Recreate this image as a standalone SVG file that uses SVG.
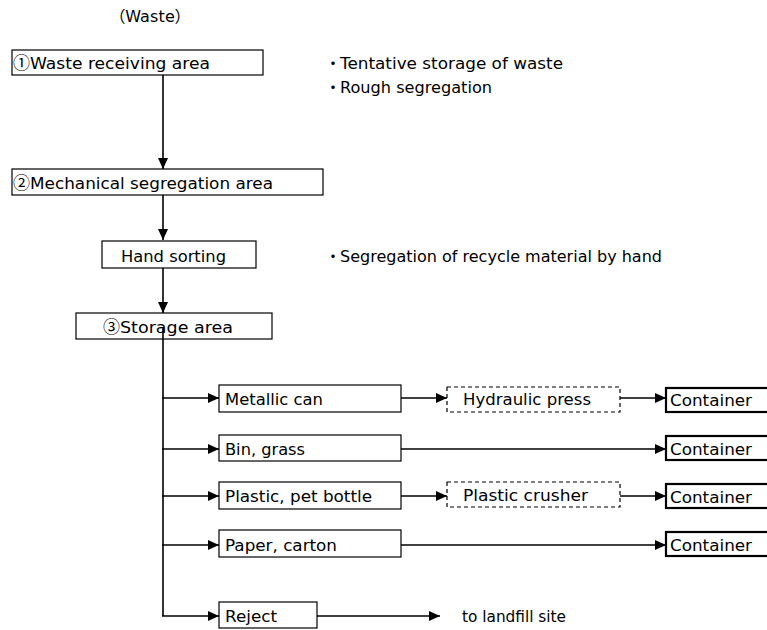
<svg xmlns="http://www.w3.org/2000/svg" width="767" height="630" viewBox="0 0 767 630">
  <style>
    text { font-family: "DejaVu Sans", "Noto Sans CJK JP", sans-serif; font-size: 16px; fill: #000; font-feature-settings: "palt"; }
    .cjk { font-family: "Noto Sans CJK JP", sans-serif; font-size: 17px; font-feature-settings: normal; }
    .dot { font-family: "Noto Sans CJK JP", sans-serif; font-size: 16px; font-feature-settings: normal; }
    .box { fill: #fff; stroke: #000; stroke-width: 1.2; }
    .dash { fill: #fff; stroke: #000; stroke-width: 1.2; stroke-dasharray: 4 3; }
    .cont { fill: #fff; stroke: #000; stroke-width: 2.2; }
    .link { fill: none; stroke: #000; stroke-width: 1.6; }
  </style>
  <defs>
    <marker id="arrow" markerUnits="userSpaceOnUse" markerWidth="12" markerHeight="10" refX="11" refY="5" orient="auto">
      <path d="M0,0 L11,5 L0,10 Z" fill="#000"/>
    </marker>
  </defs>

  <rect width="767" height="630" fill="#fff"/>

  <text x="117" y="22" textLength="66" lengthAdjust="spacing">（Waste）</text>

  <!-- connectors -->
  <g id="connectors">
    <line class="link" x1="163" y1="75" x2="163" y2="169" marker-end="url(#arrow)"/>
    <line class="link" x1="163" y1="195" x2="163" y2="240" marker-end="url(#arrow)"/>
    <line class="link" x1="163" y1="268" x2="163" y2="313" marker-end="url(#arrow)"/>
    <line class="link" x1="163" y1="327" x2="163" y2="616"/>
    <line class="link" x1="162" y1="398" x2="219" y2="398" marker-end="url(#arrow)"/>
    <line class="link" x1="162" y1="449" x2="219" y2="449" marker-end="url(#arrow)"/>
    <line class="link" x1="162" y1="496" x2="219" y2="496" marker-end="url(#arrow)"/>
    <line class="link" x1="162" y1="545" x2="219" y2="545" marker-end="url(#arrow)"/>
    <line class="link" x1="162" y1="616" x2="219" y2="616" marker-end="url(#arrow)"/>
    <line class="link" x1="401" y1="398" x2="447" y2="398" marker-end="url(#arrow)"/>
    <line class="link" x1="620" y1="398" x2="666" y2="398" marker-end="url(#arrow)"/>
    <line class="link" x1="399" y1="449" x2="666" y2="449" marker-end="url(#arrow)"/>
    <line class="link" x1="401" y1="496" x2="447" y2="496" marker-end="url(#arrow)"/>
    <line class="link" x1="620" y1="496" x2="666" y2="496" marker-end="url(#arrow)"/>
    <line class="link" x1="401" y1="545" x2="666" y2="545" marker-end="url(#arrow)"/>
    <line class="link" x1="317" y1="616" x2="440" y2="616" marker-end="url(#arrow)"/>
  </g>

  <g id="receiving">
    <rect class="box" x="12" y="50" width="251" height="25"/>
    <text x="13" y="69"><tspan class="cjk">①</tspan><tspan textLength="180" lengthAdjust="spacingAndGlyphs">Waste receiving area</tspan></text>
  </g>
  <g id="receiving-notes">
    <text x="325" y="69"><tspan class="dot">・</tspan><tspan x="340" textLength="223" lengthAdjust="spacingAndGlyphs">Tentative storage of waste</tspan></text>
    <text x="325" y="93"><tspan class="dot">・</tspan><tspan x="340" textLength="152" lengthAdjust="spacingAndGlyphs">Rough segregation</tspan></text>
  </g>

  <g id="mechanical">
    <rect class="box" x="12" y="169" width="311" height="26"/>
    <text x="13" y="189"><tspan class="cjk">②</tspan><tspan textLength="243" lengthAdjust="spacingAndGlyphs">Mechanical segregation area</tspan></text>
  </g>

  <g id="hand-sorting">
    <rect class="box" x="102" y="241" width="154" height="27"/>
    <text x="121" y="262" textLength="105" lengthAdjust="spacingAndGlyphs">Hand sorting</text>
  </g>
  <g id="hand-note">
    <text x="325" y="262"><tspan class="dot">・</tspan><tspan x="340" textLength="322" lengthAdjust="spacingAndGlyphs">Segregation of recycle material by hand</tspan></text>
  </g>

  <g id="storage">
    <rect class="box" x="76" y="313" width="196" height="26"/>
    <text x="103" y="333"><tspan class="cjk">③</tspan><tspan textLength="113" lengthAdjust="spacingAndGlyphs">Storage area</tspan></text>
  </g>
  <line class="link" x1="163" y1="327" x2="163" y2="339"/>

  <g id="metallic-can">
    <rect class="box" x="219" y="385" width="182" height="27"/>
    <text x="225" y="405" textLength="98" lengthAdjust="spacingAndGlyphs">Metallic can</text>
  </g>
  <g id="bin-grass">
    <rect class="box" x="219" y="435" width="182" height="26"/>
    <text x="225" y="455" textLength="80" lengthAdjust="spacingAndGlyphs">Bin, grass</text>
  </g>
  <g id="plastic-bottle">
    <rect class="box" x="219" y="482" width="182" height="27"/>
    <text x="225" y="502" textLength="147" lengthAdjust="spacingAndGlyphs">Plastic, pet bottle</text>
  </g>
  <g id="paper-carton">
    <rect class="box" x="219" y="530" width="182" height="27"/>
    <text x="225" y="551" textLength="112" lengthAdjust="spacingAndGlyphs">Paper, carton</text>
  </g>
  <g id="reject">
    <rect class="box" x="219" y="602" width="98" height="26"/>
    <text x="225" y="622" textLength="52" lengthAdjust="spacingAndGlyphs">Reject</text>
  </g>
  <g id="landfill">
    <text x="462" y="622" textLength="104" lengthAdjust="spacingAndGlyphs">to landfill site</text>
  </g>

  <g id="hydraulic-press">
    <rect class="dash" x="447" y="387" width="173" height="25"/>
    <text x="463" y="405" textLength="128" lengthAdjust="spacingAndGlyphs">Hydraulic press</text>
  </g>
  <g id="plastic-crusher">
    <rect class="dash" x="447" y="482" width="173" height="25"/>
    <text x="463" y="501" textLength="125" lengthAdjust="spacingAndGlyphs">Plastic crusher</text>
  </g>

  <g id="container-1">
    <rect class="cont" x="666" y="388" width="110" height="24"/>
    <text x="670" y="406" textLength="82" lengthAdjust="spacingAndGlyphs">Container</text>
  </g>
  <g id="container-2">
    <rect class="cont" x="666" y="436" width="110" height="24"/>
    <text x="670" y="455" textLength="82" lengthAdjust="spacingAndGlyphs">Container</text>
  </g>
  <g id="container-3">
    <rect class="cont" x="666" y="484" width="110" height="24"/>
    <text x="670" y="503" textLength="82" lengthAdjust="spacingAndGlyphs">Container</text>
  </g>
  <g id="container-4">
    <rect class="cont" x="666" y="532" width="110" height="24"/>
    <text x="670" y="551" textLength="82" lengthAdjust="spacingAndGlyphs">Container</text>
  </g>
</svg>
